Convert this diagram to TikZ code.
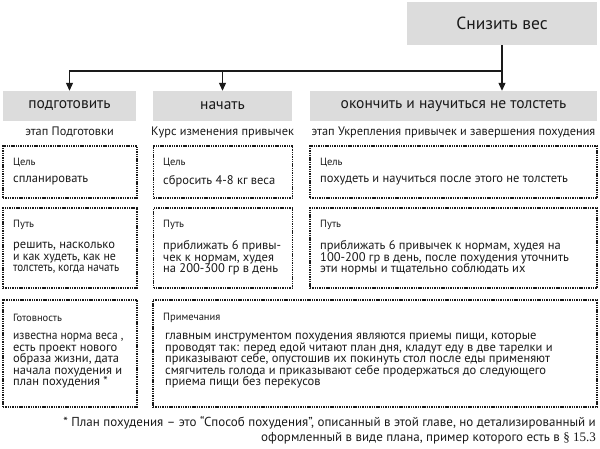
\documentclass[tikz,border=0pt]{standalone}
\usepackage{fontspec}
\setmainfont{PT Sans}
\newfontfamily\serifpart{Liberation Serif}
\usepackage{xcolor}
\definecolor{headgray}{HTML}{DCDCDC}
\definecolor{ink}{HTML}{1A1A1A}
\usepackage{tikz}
\usetikzlibrary{arrows.meta}
\lineskiplimit=-20pt\relax
\newcommand\tightline[2]{{\addfontfeature{FakeStretch=#1}#2}}

\begin{document}
\begin{tikzpicture}[x=1pt,y=-1pt,
  head/.style={rectangle,fill=headgray,text=ink,minimum height=30pt,inner sep=0pt,
    font=\fontsize{15.5}{17}\selectfont},
  card/.style={rectangle,draw=ink,line width=1.6pt,dash pattern=on 1.4pt off 0.9pt,inner sep=0pt},
  tag/.style={anchor=west,inner sep=0pt,text=ink,font=\fontsize{10.5}{12}\selectfont},
  body/.style={anchor=west,inner sep=0pt,align=left,text=ink,font=\fontsize{12.5}{11.5}\selectfont},
  sub/.style={inner sep=0pt,text=ink,font=\fontsize{12.3}{14}\selectfont},
  dep/.style={-{Triangle[length=8pt,width=7pt]},ink,line width=1.1pt}]
  \useasboundingbox (0,0) rectangle (600,448);
  % goal and the three stages
  \node[head,minimum width=190pt,minimum height=43pt,font=\fontsize{17.5}{19}\selectfont] (goal) at (502,23.5) {Снизить вес};
  \node[head,minimum width=133pt] (prep) at (69.5,106) {подготовить};
  \node[head,minimum width=139pt] (start) at (222.5,106) {начать};
  \node[head,minimum width=287pt] (finish) at (453.5,106) {окончить и научиться не толстеть};
  \coordinate (split) at (502,71);
  \draw[ink,line width=1.1pt] (goal) -- (split);
  \draw[dep] (split) -| (prep);
  \draw[dep] (split -| start) -- (start);
  \draw[dep] (split) -- (split |- finish.north);
  \node[sub] (prepsub) at (69.5,132) {этап Подготовки};
  \node[sub] (startsub) at (222.5,132) {Курс изменения привычек};
  \node[sub] (finishsub) at (453.5,132) {этап Укрепления привычек и завершения похудения};
  % cards
  \node[card,minimum width=134pt,minimum height=52pt] (prepgoal) at (70,172) {};
  \node[card,minimum width=139pt,minimum height=52pt] (startgoal) at (223,172) {};
  \node[card,minimum width=287pt,minimum height=52pt] (finishgoal) at (453.5,172) {};
  \node[card,minimum width=134pt,minimum height=80pt] (prepway) at (70,248) {};
  \node[card,minimum width=139pt,minimum height=80pt] (startway) at (223,248) {};
  \node[card,minimum width=287pt,minimum height=80pt] (finishway) at (453.5,248) {};
  \node[card,minimum width=134pt,minimum height=107pt] (ready) at (70,353.5) {};
  \node[card,minimum width=444pt,minimum height=107pt] (notes) at (375,353.5) {};
  % card texts
  \node[tag] (prepgoaltag) at (13,162) {Цель};
  \node[body] (prepgoaltxt) at (13,181) {спланировать};
  \node[tag] (startgoaltag) at (163,162) {Цель};
  \node[body] (startgoaltxt) at (163,181) {сбросить 4-8 кг веса};
  \node[tag] (finishgoaltag) at (320,162) {Цель};
  \node[body] (finishgoaltxt) at (320,181) {похудеть и научиться после этого не толстеть};
  \node[tag] (prepwaytag) at (13,225) {Путь};
  \node[body] (prepwaytxt) at (13,258) {решить, насколько\\\tightline{0.95}{и как худеть, как не}\\\tightline{0.88}{толстеть, когда начать}};
  \node[tag] (startwaytag) at (163,225) {Путь};
  \node[body] (startwaytxt) at (163,258) {приближать 6 привы-\\чек к нормам, худея\\на 200-300 гр в день};
  \node[tag] (finishwaytag) at (320,225) {Путь};
  \node[body] (finishwaytxt) at (320,258) {приближать 6 привычек к нормам, худея на\\100-200 гр в день, после похудения уточнить\\эти нормы и тщательно соблюдать их};
  \node[tag] (readytag) at (13,318) {Готовность};
  \node[body] (readytxt) at (13,361) {\tightline{0.92}{известна норма веса ,}\\есть проект нового\\образа жизни, дата\\начала похудения и\\план похудения *};
  \node[tag] (notestag) at (163,318) {Примечания};
  \node[body] (notestxt) at (165,361) {главным инструментом похудения являются приемы пищи, которые\\проводят так: перед едой читают план дня, кладут еду в две тарелки и\\приказывают себе, опустошив их покинуть стол после еды применяют\\смягчитель голода и приказывают себе продержаться до следующего\\приема пищи без перекусов};
  \node[anchor=east,align=right,inner sep=0pt,text=ink,font=\fontsize{13}{15}\selectfont] (foot) at (596,430)
    {* План похудения -- это “Способ похудения”, описанный в этой главе, но детализированный и\\оформленный в виде плана, пример которого есть в {\serifpart§ 15.3}};
\end{tikzpicture}
\end{document}
